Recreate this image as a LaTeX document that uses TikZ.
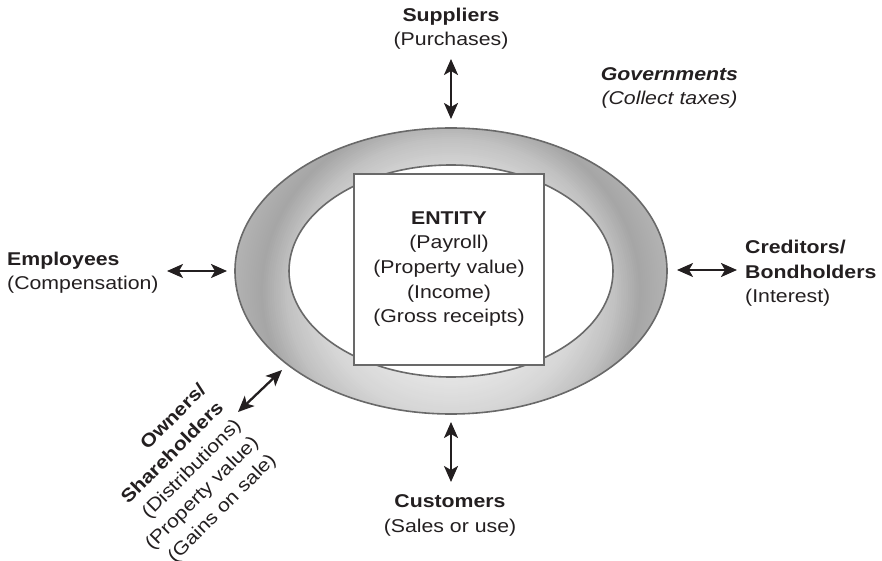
\documentclass[tikz,border=0pt]{standalone}
\usepackage{fontspec}
\setmainfont{Liberation Sans}[FakeStretch=1.15]
\usetikzlibrary{arrows.meta}
\definecolor{ink}{RGB}{35,31,32}
\definecolor{edgegray}{RGB}{105,105,105}
\newcommand\lblfont{\fontsize{18.5bp}{24.7bp}\selectfont}
\begin{document}
\begin{tikzpicture}[x=1bp, y=-1bp, font=\lblfont, text=ink,
  lbl/.style={inner sep=0pt, align=center, anchor=base},
  dbl/.style={{Stealth[length=16bp,width=14bp,inset=4bp]}-{Stealth[length=16bp,width=14bp,inset=4bp]}, line width=2.3bp, draw=ink},
  ringline/.style={draw=edgegray, line width=1.6bp}]
\useasboundingbox (0,0) rectangle (882,561);
% ring with stepped elliptical gradient
\begin{scope}
  \clip (451,271) ellipse [x radius=216bp, y radius=143bp];
  \foreach \k in {104,103,...,40} {
    \pgfmathsetmacro\r{\k/2}
    \pgfmathsetmacro\g{(\r<22)?0.894:((\r<31)?(0.894-(\r-22)/9*0.054):((\r<38)?(0.84-(\r-31)/7*0.08):((\r<44)?(0.76-(\r-38)/6*0.11):(0.65+(\r-44)/6*0.05))))}
    \pgfmathsetmacro\rx{2.16*\k}
    \pgfmathsetmacro\ry{2*\k}
    \definecolor{ringtone}{gray}{\g}
    \fill[ringtone] (451,291) ellipse [x radius=\rx bp, y radius=\ry bp];
  }
\end{scope}
\fill[white] (451,271) ellipse [x radius=162bp, y radius=106bp];
\draw[ringline] (451,271) ellipse [x radius=216bp, y radius=143bp];
\draw[ringline] (451,271) ellipse [x radius=162bp, y radius=106bp];
% entity box
\node[draw=edgegray, line width=2bp, fill=white, minimum width=190bp, minimum height=191bp, inner sep=0pt] (box) at (449,269.5) {};
\node[lbl] (ent) at (449,323) {\textbf{ENTITY}\\(Payroll)\\(Property value)\\(Income)\\(Gross receipts)};
% labels
\node[lbl] (sup) at (451,46) {\textbf{Suppliers}\\(Purchases)};
\node[lbl] (gov) at (669.5,105) {\textbf{\textit{Governments}}\\\textit{(Collect taxes)}};
\node[lbl, align=left, anchor=base west] (emp) at (7,290) {\textbf{Employees}\\(Compensation)};
\node[lbl, align=left, anchor=base west] (cred) at (745,303) {\textbf{Creditors/}\\\textbf{Bondholders}\\(Interest)};
\node[lbl] (cust) at (450,532) {\textbf{Customers}\\(Sales or use)};
\node[lbl, align=right, anchor=base east, rotate=45] (own) at (277,461) {\textbf{Owners/}\\\textbf{Shareholders}\\(Distributions)\\(Property value)\\(Gains on sale)};
% connector ends
\coordinate (supA) at (451,59);
\coordinate (supB) at (451,119);
\coordinate (empA) at (167,271);
\coordinate (empB) at (227,271);
\coordinate (credA) at (677,270);
\coordinate (credB) at (737,270);
\coordinate (custA) at (451,422);
\coordinate (custB) at (451,482);
\coordinate (ownA) at (238,412);
\coordinate (ownB) at (282,370);
\draw[dbl] (supA) -- (supB);
\draw[dbl] (empA) -- (empB);
\draw[dbl] (credA) -- (credB);
\draw[dbl] (custA) -- (custB);
\draw[dbl] (ownA) -- (ownB);
\end{tikzpicture}
\end{document}
